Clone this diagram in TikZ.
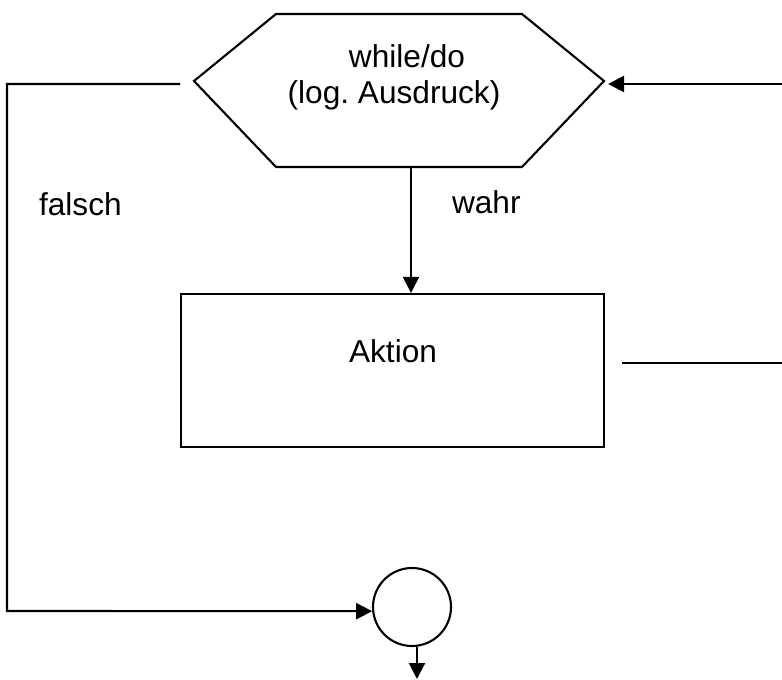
\documentclass[tikz,border=0pt]{standalone}
\usepackage{fontspec}
\setmainfont{Liberation Sans}
\usetikzlibrary{arrows.meta}

\begin{document}
\begin{tikzpicture}[
            line width=1.5pt,
            pfeil/.style={-{Triangle[length=0.4cm,width=0.4cm]}},
            txt/.style={font=\fontsize{22.5}{25}\selectfont, inner sep=0pt}]
        \useasboundingbox (0,0) rectangle (19.55,16.975);

        % Bedingung als Sechseck
        \coordinate (hexW) at (4.85,14.95);
        \coordinate (hexE) at (15.1,14.95);
        \coordinate (hexS) at (10.275,12.8);
        \draw (hexW) -- (6.9,16.625) -- (13.05,16.625) -- (hexE) -- (13.05,12.8) -- (6.9,12.8) -- cycle;
        \node[txt,anchor=base] (while) at (10.175,15.275) {while/do};
        \node[txt,anchor=base] (ausdruck) at (9.85,14.375) {(log.\ Ausdruck)};

        % Aktion und Zusammenfuehrung
        \node[draw, minimum width=10.575cm, minimum height=3.825cm, inner sep=0pt] (box) at (9.8125,7.7125) {};
        \node[txt,anchor=base] (aktion) at (9.825,7.9) {Aktion};
        \node[draw, circle, minimum size=1.95cm, inner sep=0pt] (join) at (10.3,1.8) {};

        % wahr-Zweig
        \draw[pfeil] (hexS) -- (hexS |- box.north);
        \node[txt,anchor=base west] (wahr) at (11.275,11.625) {wahr};

        % falsch-Zweig
        \coordinate (falschA) at (4.5,14.875);
        \coordinate (falschE) at (0.175,1.7);
        \draw[pfeil] (falschA) -| (falschE) -- (join.186);
        \node[txt,anchor=base west] (falsch) at (0.95,11.575) {falsch};

        % Ruecksprung
        \coordinate (rueckA) at (19.55,14.875);
        \coordinate (rueckE) at (15.2,14.875);
        \draw[pfeil] (rueckA) -- (rueckE);
        \coordinate (aktionA) at (15.55,7.9);
        \coordinate (aktionE) at (19.55,7.9);
        \draw (aktionA) -- (aktionE);

        % Ausgang
        \coordinate (ende) at (10.425,0);
        \draw[pfeil] (ende |- join.south) -- (ende);
    \end{tikzpicture}
\end{document}
